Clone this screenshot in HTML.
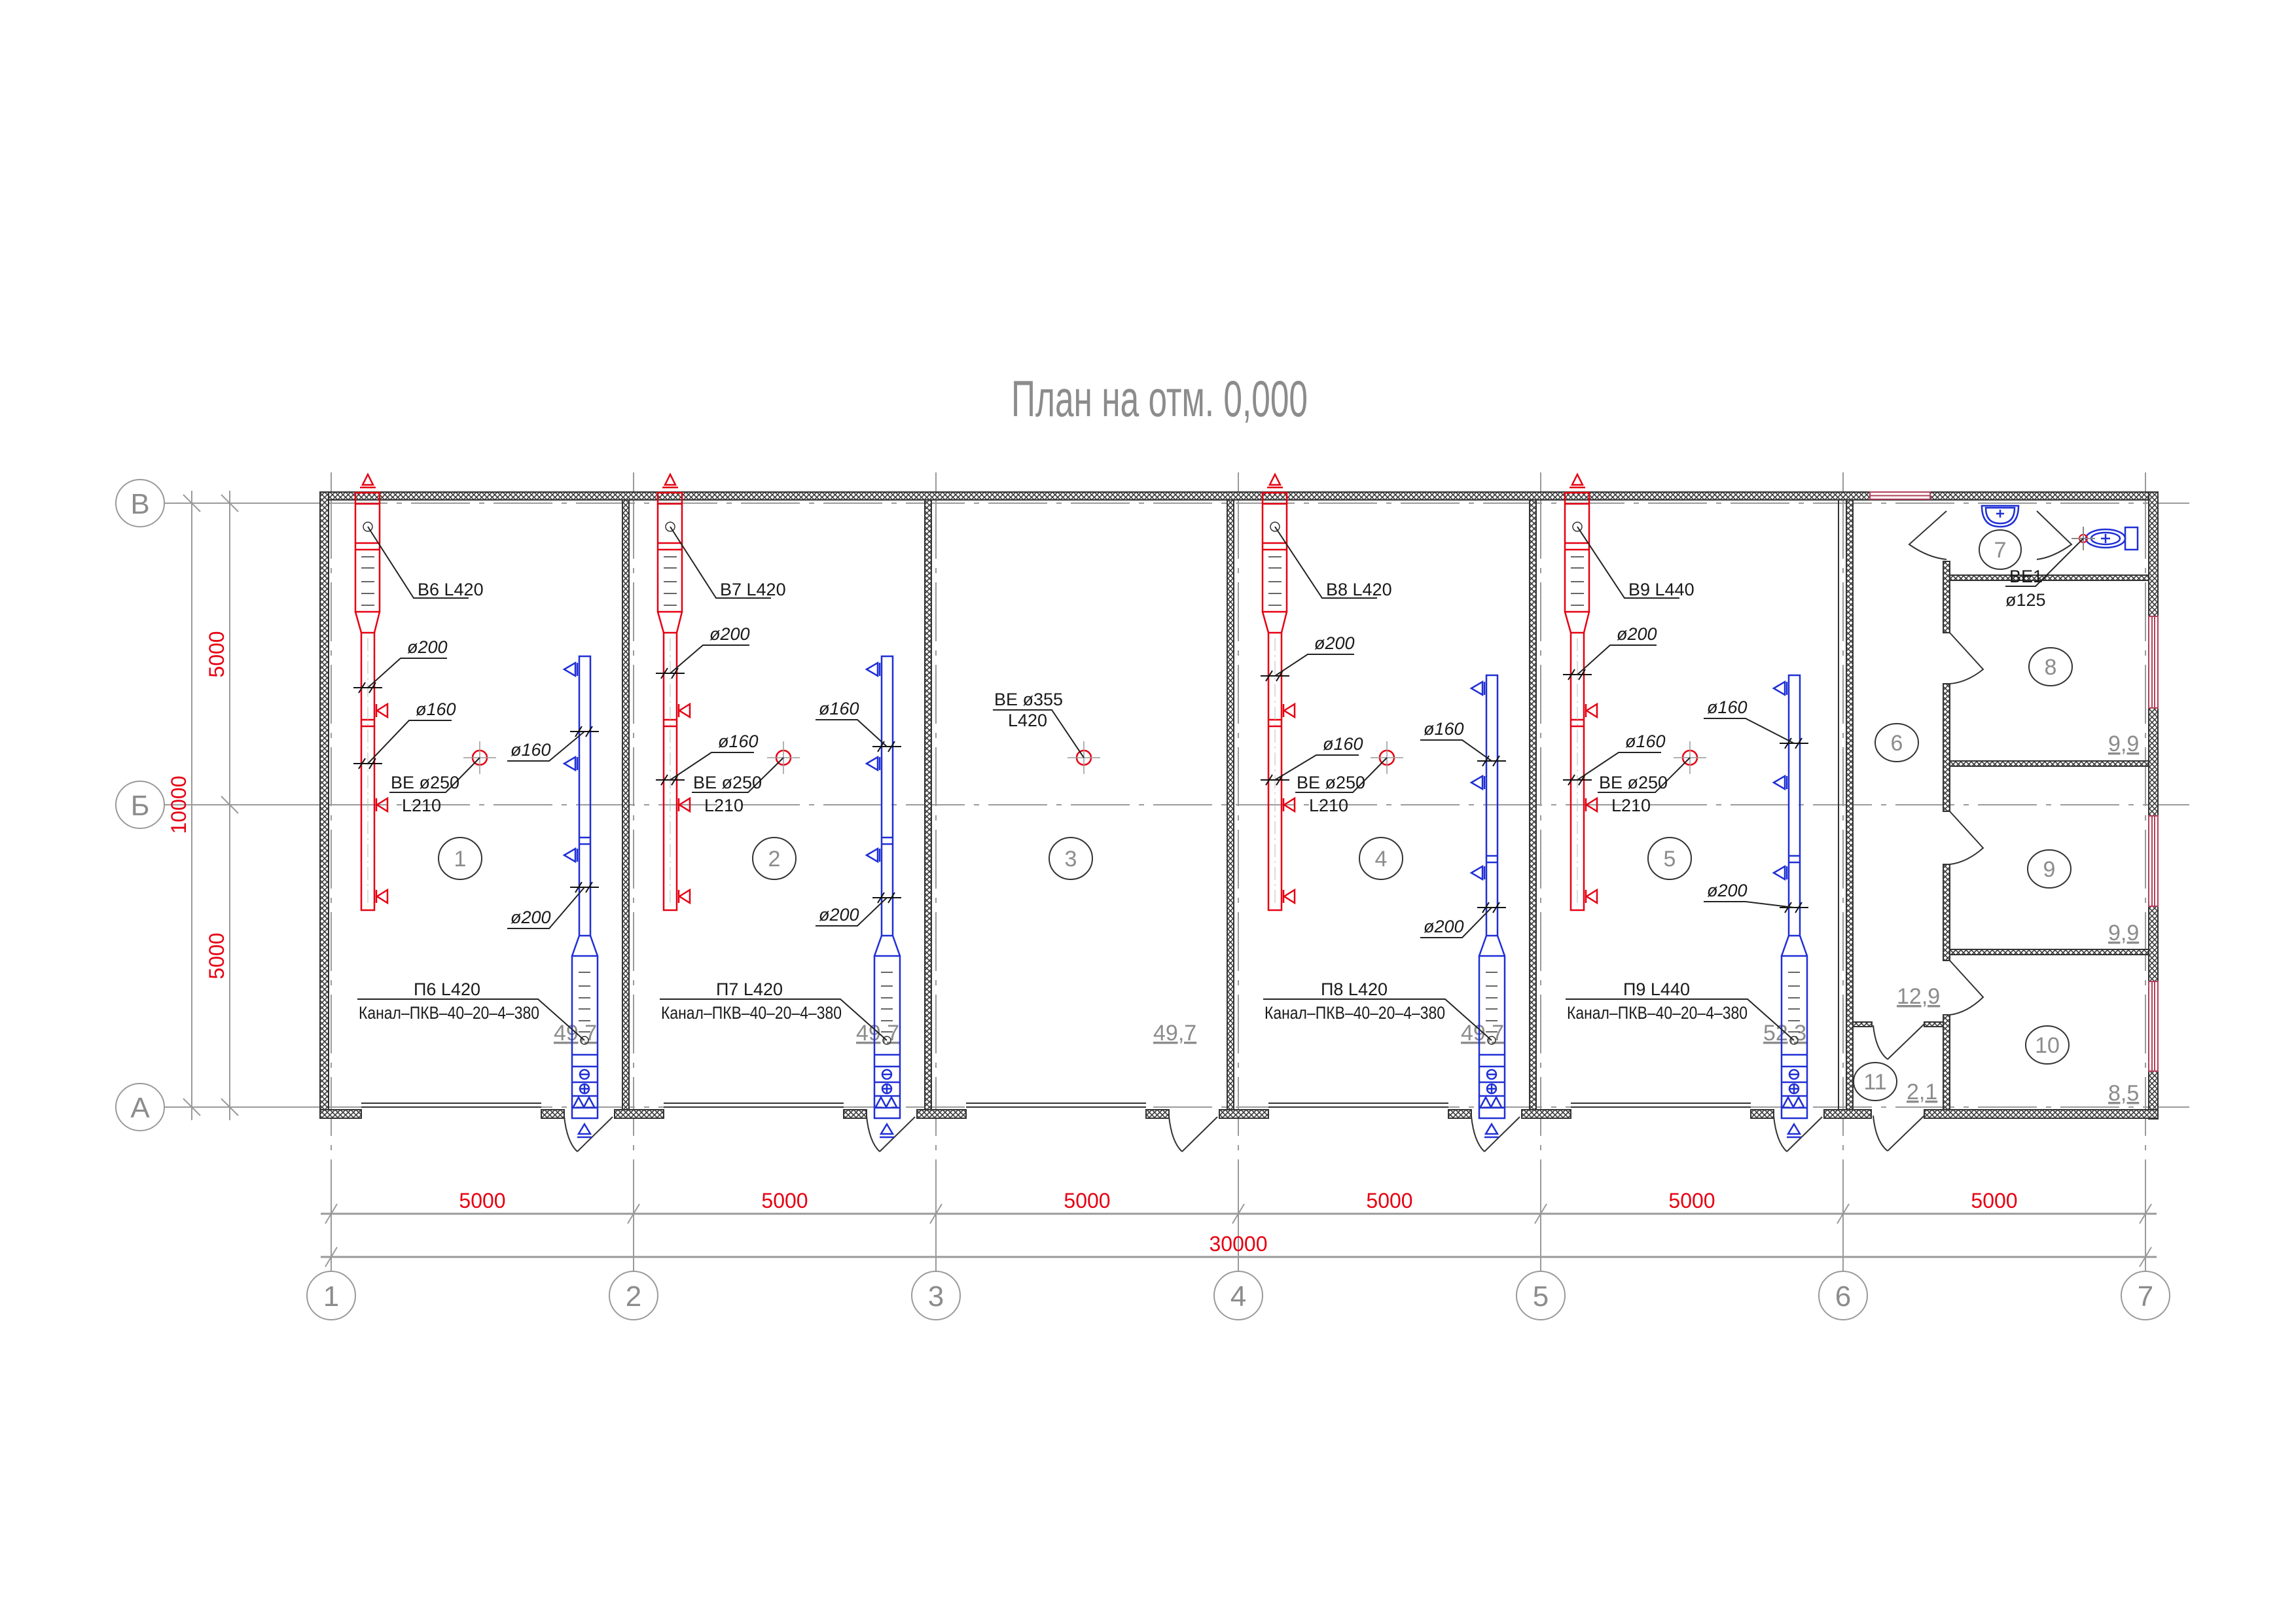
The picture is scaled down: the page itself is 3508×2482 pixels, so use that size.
<!DOCTYPE html>
<html><head><meta charset="utf-8"><style>
html,body{margin:0;padding:0;background:#fff}
svg{display:block}
text{font-family:"Liberation Sans Narrow","Liberation Sans","DejaVu Sans",sans-serif}
.g{fill:#8c8c8c}
.k{fill:#1a1a1a;font-size:27px}
.i{font-style:italic}
.r{fill:#e60012}
</style></head><body>
<svg width="3508" height="2482" viewBox="0 0 3508 2482" xmlns="http://www.w3.org/2000/svg">
<defs>
<pattern id="h" patternUnits="userSpaceOnUse" width="8" height="8">
<rect width="8" height="8" fill="#fff"/>
<path d="M0 0L8 8M8 0L0 8" stroke="#3a3a3a" stroke-width="1.6"/>
</pattern>
<g id="red" fill="none" stroke="#e60012" stroke-width="2.5">
<path d="M56 725 l-8 16 h16 z M44 745 h24"/>
<rect x="37" y="753" width="37" height="182"/>
<path d="M37 770h37M37 830h37M37 840h37"/>
<path d="M37 935 L46 967 M74 935 L66 967"/>
<rect x="46" y="967" width="20" height="424"/>
<path d="M46 1100h20M46 1110h20"/>
<path d="M69 1076v20M70 1086l16-10v20z M69 1220v20M70 1230l16-10v20z M69 1360v20M70 1370l16-10v20z"/>
<g stroke="#333" stroke-width="1.5"><path d="M46 851h20M46 868h20M46 889h20M46 907h20M46 925h20"/><circle cx="56" cy="805" r="7"/></g>
<path d="M56 975V1385" stroke="#bbb" stroke-width="1" stroke-dasharray="20 6 3 6"/>
</g>
<g id="blueLow" fill="none" stroke="#1f2fd6" stroke-width="2.5">
<path d="M379 1430 L368 1461 M396 1430 L407 1461"/>
<rect x="368" y="1461" width="39" height="248"/>
<path d="M368 1612h39M368 1630h39M368 1654h39M368 1675h39M368 1693h39"/>
<g stroke="#333" stroke-width="1.5"><path d="M378 1486h18M378 1507h18M378 1525h18M378 1542h18M378 1560h18M378 1577h18"/><circle cx="387" cy="1590" r="6"/></g>
<circle cx="387" cy="1642" r="7"/><path d="M380 1642h14"/>
<circle cx="387" cy="1664" r="7"/><path d="M380 1664h14M387 1657v14"/>
<path d="M370 1692l8-15 8 15 8-15 8 15"/>
<path d="M387 1718l-9 15h18z M376 1738h22"/>
</g>
<g id="tk" stroke="#111" stroke-width="2" fill="none"><path d="M-22 0h44M-14 8l10-16M2 8l10-16"/></g>
</defs>

<text x="1545" y="636" class="g" font-size="78" textLength="453" lengthAdjust="spacingAndGlyphs">План на отм. 0,000</text>

<g stroke="#9a9a9a" stroke-width="2" fill="none">
<path d="M251 769H489M251 1230H489M251 1692H489M3297 769H3345M3297 1230H3345M3297 1692H3345"/>
<path d="M502 769H3283M502 1230H3283M502 1692H3283" stroke-dasharray="90 14 8 14"/>
<g id="vax"><path d="M506 722V752M506 1790V1943"/><path d="M506 764V1790" stroke-dasharray="90 14 8 14"/></g>
<use href="#vax" x="462"/><use href="#vax" x="924"/><use href="#vax" x="1386"/><use href="#vax" x="1848"/><use href="#vax" x="2310"/><use href="#vax" x="2772"/>
<path d="M293 750V1712M351 750V1712"/>
<path d="M280 756l26 26M338 756l26 26M338 1217l26 26M280 1679l26 26M338 1679l26 26"/>
<path d="M490 1855H3295M490 1921H3295" stroke-width="3"/>
<path d="M497 1870l18-30M959 1870l18-30M1421 1870l18-30M1883 1870l18-30M2345 1870l18-30M2807 1870l18-30M3269 1870l18-30M497 1936l18-30M3269 1936l18-30"/>
<ellipse cx="214" cy="769" rx="37" ry="36"/><ellipse cx="214" cy="1230" rx="37" ry="36"/><ellipse cx="214" cy="1692" rx="37" ry="36"/>
<ellipse cx="506" cy="1980" rx="37" ry="37"/><ellipse cx="968" cy="1980" rx="37" ry="37"/><ellipse cx="1430" cy="1980" rx="37" ry="37"/><ellipse cx="1892" cy="1980" rx="37" ry="37"/><ellipse cx="2354" cy="1980" rx="37" ry="37"/><ellipse cx="2816" cy="1980" rx="37" ry="37"/><ellipse cx="3278" cy="1980" rx="37" ry="37"/>
</g>
<g class="g" font-size="44" text-anchor="middle">
<text x="214" y="785">В</text><text x="214" y="1246">Б</text><text x="214" y="1708">А</text>
<text x="506" y="1996">1</text><text x="968" y="1996">2</text><text x="1430" y="1996">3</text><text x="1892" y="1996">4</text><text x="2354" y="1996">5</text><text x="2816" y="1996">6</text><text x="3278" y="1996">7</text>
</g>
<g class="r" font-size="32" text-anchor="middle">
<text x="737" y="1846">5000</text><text x="1199" y="1846">5000</text><text x="1661" y="1846">5000</text><text x="2123" y="1846">5000</text><text x="2585" y="1846">5000</text><text x="3047" y="1846">5000</text>
<text x="1892" y="1912">30000</text>
<text transform="translate(342 1000) rotate(-90)">5000</text>
<text transform="translate(342 1461) rotate(-90)">5000</text>
<text transform="translate(284 1230) rotate(-90)">10000</text>
</g>

<g fill="url(#h)" stroke="#333" stroke-width="2">
<rect x="489" y="752" width="2808" height="12"/>
<rect x="489" y="752" width="13" height="957"/>
<rect x="3283" y="752" width="14" height="958"/>
<rect x="951" y="764" width="10" height="932"/><rect x="1413" y="764" width="10" height="932"/><rect x="1875" y="764" width="10" height="932"/><rect x="2337" y="764" width="10" height="932"/>
<rect x="2821" y="764" width="10" height="932"/>
<rect x="489" y="1696" width="63" height="13"/><rect x="827" y="1696" width="35" height="13"/>
<rect x="939" y="1696" width="75" height="13"/><rect x="1289" y="1696" width="35" height="13"/>
<rect x="1401" y="1696" width="75" height="13"/><rect x="1751" y="1696" width="35" height="13"/>
<rect x="1863" y="1696" width="75" height="13"/><rect x="2213" y="1696" width="35" height="13"/>
<rect x="2325" y="1696" width="75" height="13"/><rect x="2675" y="1696" width="35" height="13"/>
<rect x="2787" y="1696" width="72" height="13"/><rect x="2940" y="1696" width="357" height="13"/>
<rect x="2969" y="858" width="10" height="109"/>
<rect x="2979" y="879" width="304" height="8"/>
<rect x="2969" y="1045" width="10" height="195"/>
<rect x="2969" y="1321" width="10" height="147"/>
<rect x="2969" y="1551" width="10" height="145"/>
<rect x="2979" y="1163" width="304" height="8"/>
<rect x="2979" y="1451" width="304" height="8"/>
<rect x="2831" y="1562" width="29" height="7"/><rect x="2940" y="1562" width="29" height="7"/>
</g>
<g fill="#fff" stroke="#b0405a" stroke-width="2">
<rect x="2857" y="752" width="92" height="11"/><path d="M2857 757.5h92"/>
<rect x="3283" y="942" width="14" height="140"/><path d="M3288 942v140M3292 942v140"/>
<rect x="3283" y="1247" width="14" height="138"/><path d="M3288 1247v138M3292 1247v138"/>
<rect x="3283" y="1500" width="14" height="137"/><path d="M3288 1500v137M3292 1500v137"/>
</g>
<g fill="none" stroke="#333" stroke-width="2">
<path d="M2809 764V1696"/>
<path d="M552 1686H827M552 1692H827M1014 1686H1289M1014 1692H1289M1476 1686H1751M1476 1692H1751M1938 1686H2213M1938 1692H2213M2400 1686H2675M2400 1692H2675"/>
<path d="M936 1707L882 1760M862 1706Q866 1745 882 1760"/>
<path d="M1398 1707L1344 1760M1324 1706Q1328 1745 1344 1760"/>
<path d="M1860 1707L1806 1760M1786 1706Q1790 1745 1806 1760"/>
<path d="M2322 1707L2268 1760M2248 1706Q2252 1745 2268 1760"/>
<path d="M2784 1707L2730 1760M2710 1706Q2714 1745 2730 1760"/>
<path d="M2974 781L2917 832Q2945 852 2974 855"/>
<path d="M3112 781L3165 832Q3137 852 3112 855"/>
<path d="M2979 967L3030 1023Q3005 1043 2979 1045"/>
<path d="M2979 1240L3030 1296Q3005 1318 2979 1321"/>
<path d="M2979 1468L3030 1524Q3005 1548 2979 1551"/>
<path d="M2940 1565L2884 1619M2862 1567Q2866 1605 2884 1619"/>
<path d="M2940 1705L2884 1759M2862 1705Q2866 1745 2884 1759"/>
</g>
<g fill="none" stroke="#1f2fd6" stroke-width="2.5">
<path d="M3028 773h56q0 32-28 32q-28 0-28-32z"/><path d="M3034 776h44q0 24-22 24q-22 0-22-24z"/>
<path d="M3050 785h12M3056 779v12"/>
<ellipse cx="3217" cy="823" rx="30" ry="14"/><ellipse cx="3217" cy="823" rx="22" ry="9"/>
<rect x="3247" y="806" width="19" height="34"/><path d="M3210 823h14M3217 816v14"/>
</g>
<g stroke="#e60012" stroke-width="2" fill="none"><circle cx="3183" cy="823" r="6"/><path d="M3165 823h36M3183 805v36" stroke="#888"/></g>
<path d="M3183 823L3110 896H3064" stroke="#222" stroke-width="2" fill="none"/>
<text x="3070" y="890" class="k">ВЕ1</text><text x="3064" y="926" class="k">ø125</text>

<g fill="none" stroke="#333" stroke-width="2">
<ellipse cx="703" cy="1312" rx="33" ry="32"/><ellipse cx="1183" cy="1312" rx="33" ry="32"/><ellipse cx="1636" cy="1312" rx="33" ry="32"/><ellipse cx="2110" cy="1312" rx="33" ry="32"/><ellipse cx="2551" cy="1312" rx="33" ry="32"/>
<ellipse cx="2898" cy="1135" rx="33" ry="29"/><ellipse cx="3056" cy="840" rx="32" ry="30"/><ellipse cx="3133" cy="1019" rx="33" ry="29"/><ellipse cx="3131" cy="1328" rx="33" ry="29"/><ellipse cx="3128" cy="1597" rx="33" ry="29"/><ellipse cx="2865" cy="1653" rx="33" ry="29"/>
</g>
<g class="g" font-size="34" text-anchor="middle">
<text x="703" y="1324">1</text><text x="1183" y="1324">2</text><text x="1636" y="1324">3</text><text x="2110" y="1324">4</text><text x="2551" y="1324">5</text>
<text x="2898" y="1147">6</text><text x="3056" y="852">7</text><text x="3133" y="1031">8</text><text x="3131" y="1340">9</text><text x="3128" y="1609">10</text><text x="2865" y="1665">11</text>
</g>
<g class="g" font-size="34" text-decoration="underline">
<text x="846" y="1590">49,7</text><text x="1308" y="1590">49,7</text><text x="1762" y="1590">49,7</text><text x="2232" y="1590">49,7</text><text x="2694" y="1590">52,3</text>
<text x="3221" y="1148">9,9</text><text x="3221" y="1437">9,9</text><text x="3221" y="1682">8,5</text><text x="2898" y="1534">12,9</text><text x="2913" y="1680">2,1</text>
</g>

<use href="#red" x="506"/><use href="#red" x="968"/><use href="#red" x="1892"/><use href="#red" x="2354"/>
<use href="#blueLow" x="506"/><use href="#blueLow" x="968"/><use href="#blueLow" x="1892"/><use href="#blueLow" x="2354"/>
<g fill="none" stroke="#1f2fd6" stroke-width="2.5">
<rect x="885" y="1003" width="17" height="427"/><path d="M885 1280h17M885 1290h17"/>
<rect x="1347" y="1003" width="17" height="427"/><path d="M1347 1280h17M1347 1290h17"/>
<rect x="2271" y="1032" width="17" height="398"/><path d="M2271 1308h17M2271 1318h17"/>
<rect x="2733" y="1032" width="17" height="398"/><path d="M2733 1308h17M2733 1318h17"/>
<path d="M862 1023l17-10v20z M882 1013v20 M862 1167l17-10v20z M882 1157v20 M862 1307l17-10v20z M882 1297v20"/>
<path d="M1324 1023l17-10v20z M1344 1013v20 M1324 1167l17-10v20z M1344 1157v20 M1324 1307l17-10v20z M1344 1297v20"/>
<path d="M2248 1052l17-10v20z M2268 1042v20 M2248 1196l17-10v20z M2268 1186v20 M2248 1334l17-10v20z M2268 1324v20"/>
<path d="M2710 1052l17-10v20z M2730 1042v20 M2710 1196l17-10v20z M2730 1186v20 M2710 1334l17-10v20z M2730 1324v20"/>
</g>

<g fill="none" stroke="#e60012" stroke-width="2.5">
<circle cx="733" cy="1158" r="11"/><circle cx="1197" cy="1158" r="11"/><circle cx="1656" cy="1158" r="11"/><circle cx="2119" cy="1158" r="11"/><circle cx="2582" cy="1158" r="11"/>
</g>
<g stroke="#999" stroke-width="1.5"><path d="M708 1158h50M733 1133v50M1172 1158h50M1197 1133v50M1631 1158h50M1656 1133v50M2094 1158h50M2119 1133v50M2557 1158h50M2582 1133v50"/></g>

<use href="#tk" x="562" y="1051"/><use href="#tk" x="562" y="1167"/><use href="#tk" x="893" y="1118"/><use href="#tk" x="893" y="1356"/>
<use href="#tk" x="1024" y="1029"/><use href="#tk" x="1024" y="1192"/><use href="#tk" x="1355" y="1141"/><use href="#tk" x="1355" y="1372"/>
<use href="#tk" x="1948" y="1033"/><use href="#tk" x="1948" y="1192"/><use href="#tk" x="2279" y="1163"/><use href="#tk" x="2279" y="1387"/>
<use href="#tk" x="2410" y="1031"/><use href="#tk" x="2410" y="1192"/><use href="#tk" x="2741" y="1136"/><use href="#tk" x="2741" y="1387"/>

<g fill="none" stroke="#222" stroke-width="2">
<path d="M562 805L632 914H716"/><path d="M562 1051L612 1006H683"/><path d="M562 1167L625 1101H690"/>
<path d="M733 1158L681 1211H595"/><path d="M893 1118L839 1163H775"/><path d="M893 1356L839 1419H775"/>
<path d="M546 1527H822L893 1590"/>
<path d="M1024 805L1094 914H1178"/><path d="M1024 1029L1074 986H1145"/><path d="M1024 1192L1087 1150H1152"/>
<path d="M1197 1158L1143 1211H1057"/><path d="M1355 1141L1310 1100H1246"/><path d="M1355 1372L1310 1415H1246"/>
<path d="M1008 1527H1284L1355 1590"/>
<path d="M1656 1158L1607 1085H1517"/>
<path d="M1948 805L2020 914H2104"/><path d="M1948 1033L1998 1000H2069"/><path d="M1948 1192L2011 1154H2076"/>
<path d="M2119 1158L2067 1211H1979"/><path d="M2279 1163L2234 1131H2170"/><path d="M2279 1387L2234 1433H2170"/>
<path d="M1930 1527H2208L2279 1590"/>
<path d="M2410 805L2482 914H2566"/><path d="M2410 1031L2460 986H2531"/><path d="M2410 1192L2473 1150H2538"/>
<path d="M2582 1158L2529 1211H2441"/><path d="M2741 1136L2667 1098H2603"/><path d="M2741 1387L2667 1378H2603"/>
<path d="M2392 1527H2670L2741 1590"/>
</g>

<g class="k">
<text x="638" y="910">В6 L420</text><text x="622" y="998" class="k i">ø200</text><text x="635" y="1093" class="k i">ø160</text>
<text x="597" y="1205">ВЕ ø250</text><text x="614" y="1240">L210</text>
<text x="780" y="1155" class="k i">ø160</text><text x="780" y="1411" class="k i">ø200</text>
<text x="683" y="1521" text-anchor="middle">П6 L420</text><text x="548" y="1557" textLength="276" lengthAdjust="spacingAndGlyphs">Канал–ПКВ–40–20–4–380</text>

<text x="1100" y="910">В7 L420</text><text x="1084" y="978" class="k i">ø200</text><text x="1097" y="1142" class="k i">ø160</text>
<text x="1059" y="1205">ВЕ ø250</text><text x="1076" y="1240">L210</text>
<text x="1251" y="1092" class="k i">ø160</text><text x="1251" y="1407" class="k i">ø200</text>
<text x="1145" y="1521" text-anchor="middle">П7 L420</text><text x="1010" y="1557" textLength="276" lengthAdjust="spacingAndGlyphs">Канал–ПКВ–40–20–4–380</text>

<text x="1519" y="1078">ВЕ ø355</text><text x="1540" y="1110">L420</text>

<text x="2026" y="910">В8 L420</text><text x="2008" y="992" class="k i">ø200</text><text x="2021" y="1146" class="k i">ø160</text>
<text x="1981" y="1205">ВЕ ø250</text><text x="2000" y="1240">L210</text>
<text x="2175" y="1123" class="k i">ø160</text><text x="2175" y="1425" class="k i">ø200</text>
<text x="2069" y="1521" text-anchor="middle">П8 L420</text><text x="1932" y="1557" textLength="276" lengthAdjust="spacingAndGlyphs">Канал–ПКВ–40–20–4–380</text>

<text x="2488" y="910">В9 L440</text><text x="2470" y="978" class="k i">ø200</text><text x="2483" y="1142" class="k i">ø160</text>
<text x="2443" y="1205">ВЕ ø250</text><text x="2462" y="1240">L210</text>
<text x="2608" y="1090" class="k i">ø160</text><text x="2608" y="1370" class="k i">ø200</text>
<text x="2531" y="1521" text-anchor="middle">П9 L440</text><text x="2394" y="1557" textLength="276" lengthAdjust="spacingAndGlyphs">Канал–ПКВ–40–20–4–380</text>
</g>
</svg>
</body></html>
